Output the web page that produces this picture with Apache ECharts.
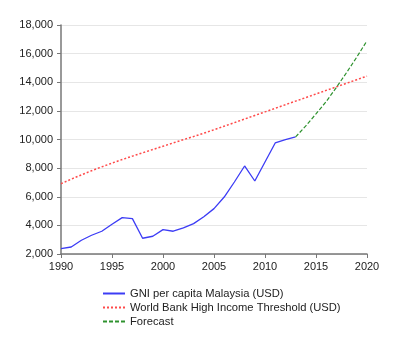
<!DOCTYPE html>
<html>
<head>
<meta charset="utf-8">
<script src="https://cdn.jsdelivr.net/npm/echarts@6/dist/echarts.min.js"></script>
<style>
	html, body { margin: 0; padding: 0; background: #fff; }
	#chart { width: 400px; height: 350px; }
</style>
</head>
<body>
<div id="chart"></div>
<script>
// years and values
var years = [1990, 1991, 1992, 1993, 1994, 1995, 1996, 1997, 1998, 1999, 2000,
	2001, 2002, 2003, 2004, 2005, 2006, 2007, 2008, 2009, 2010,
	2011, 2012, 2013, 2014, 2015, 2016, 2017, 2018, 2019, 2020];
var gniMalaysia = [2380, 2490, 2960, 3310, 3590, 4080, 4540, 4470, 3100, 3240, 3700,
	3590, 3820, 4120, 4600, 5170, 5980, 7030, 8150, 7100, 8430,
	9760, 9990, 10180];
var highIncome = [6910, 7230, 7530, 7820, 8090, 8350, 8600, 8840, 9070, 9300, 9530,
	9760, 9990, 10210, 10440, 10680, 10930, 11180, 11430, 11680, 11930,
	12180, 12430, 12680, 12930, 13180, 13430, 13680, 13930, 14180, 14430];
var forecastYears = [2013, 2014, 2015, 2016, 2017, 2018, 2019, 2020];
var forecast = [10180, 10950, 11790, 12650, 13640, 14680, 15760, 16900];
var yTicks = { min: 2000, max: 18000, step: 2000 };
var xTicks = { min: 1990, max: 2020, step: 5 };

function pairs(xs, ys) {
	return ys.map(function(v, i) { return [xs[i], v]; });
}

var myChart = echarts.init(document.getElementById('chart'));
var font = 'Liberation Sans, Arial, sans-serif';
var option = {
	animation: false,
	textStyle: { fontFamily: font },
	grid: { left: 61, right: 33, top: 25, bottom: 96 },
	xAxis: {
		type: 'value',
		min: xTicks.min, max: xTicks.max, interval: xTicks.step,
		axisLine: { lineStyle: { color: '#777', width: 1.5 } },
		axisTick: { show: true, length: 4, lineStyle: { color: '#777' } },
		axisLabel: {
			color: '#222', fontSize: 11, margin: 7,
			formatter: function(v) { return String(v); }
		},
		splitLine: { show: false }
	},
	yAxis: {
		type: 'value',
		min: yTicks.min, max: yTicks.max, interval: yTicks.step,
		axisLine: { show: true, lineStyle: { color: '#777', width: 1.5 } },
		axisTick: { show: true, length: 4, lineStyle: { color: '#777' } },
		axisLabel: {
			color: '#222', fontSize: 11, margin: 8,
			formatter: function(v) { return String(v).replace(/\B(?=(\d{3})+(?!\d))/g, ','); }
		},
		splitLine: { lineStyle: { color: '#e6e6e6', width: 1 } }
	},
	legend: {
		orient: 'vertical',
		left: 102, top: 288, padding: 0,
		itemWidth: 22, itemHeight: 8, itemGap: 3,
		itemStyle: { opacity: 0 },
		textStyle: { color: '#222', fontSize: 11.2, lineHeight: 11, fontFamily: font },
		data: ['GNI per capita Malaysia (USD)', 'World Bank High Income Threshold (USD)', 'Forecast']
	},
	series: [
		{
			name: 'GNI per capita Malaysia (USD)', type: 'line', symbol: 'none',
			data: pairs(years, gniMalaysia),
			lineStyle: { color: '#3c3cf5', width: 1.3 },
			itemStyle: { color: '#3c3cf5' }
		},
		{
			name: 'World Bank High Income Threshold (USD)', type: 'line', symbol: 'none',
			data: pairs(years, highIncome),
			lineStyle: { color: '#ff4a4a', width: 1.5, type: [2, 2] },
			itemStyle: { color: '#ff4a4a' }
		},
		{
			name: 'Forecast', type: 'line', symbol: 'none',
			data: pairs(forecastYears, forecast),
			lineStyle: { color: '#2e922e', width: 1.2, type: [4, 2] },
			itemStyle: { color: '#2e922e' }
		}
	]
};
myChart.setOption(option);
</script>
</body>
</html>
